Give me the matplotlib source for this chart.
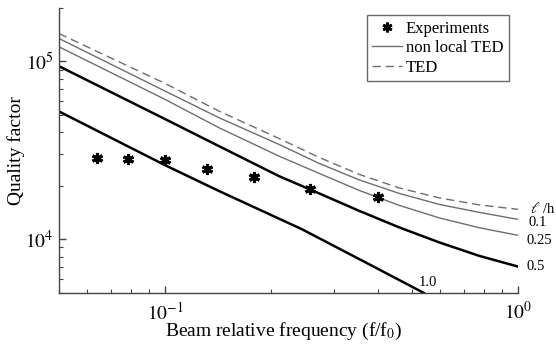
import matplotlib
matplotlib.use("Agg")
import matplotlib.pyplot as plt
from matplotlib.lines import Line2D
from matplotlib.ticker import FixedLocator, FixedFormatter

plt.rcParams['font.family'] = ['Liberation Serif', 'DejaVu Serif']
plt.rcParams['mathtext.fontset'] = 'stix'

# Experimental data
exp_f = [0.064, 0.0787, 0.1, 0.131, 0.178, 0.257, 0.401]
exp_q = [28500, 28400, 27900, 25000, 22400, 19100, 17200]

# Curves
f_grid = [0.05, 0.1, 0.142, 0.21, 0.273, 0.3545, 0.46, 0.597, 0.775, 1.0]
q_ted = [143600, 75200, 52600, 36930, 28880, 23190, 19470, 17110, 15630, 14740]
q_nl_01 = [134700, 68100, 48300, 34190, 26730, 21600, 18130, 15730, 14180, 12950]
q_nl_025 = [120950, 61150, 42420, 29380, 23490, 18850, 15530, 13210, 11630, 10530]
q_nl_05 = [94100, 47400, 33430, 22680, 18130, 14460, 11680, 9620, 8080, 7025]
f_nl_10 = [0.05, 0.1, 0.142, 0.244, 0.391, 0.54]
q_nl_10 = [52400, 26100, 18700, 11400, 7000, 5000]

curve_labels = ['0.1', '0.25', '0.5', '1.0']
x_ticks = [0.1, 1.0]
x_ticklabels = [r'$10^{-1}$', r'$10^{0}$']
y_ticks = [1e4, 1e5]
y_ticklabels = [r'$10^{4}$', r'$10^{5}$']

fig = plt.figure(figsize=(5.56, 3.45), dpi=100)
ax = fig.add_axes([0.106, 0.151, 0.826, 0.826])

gray = '#6e6e6e'
ax.plot(f_grid, q_ted, color=gray, lw=1.0, ls=(0, (6, 3.5)))
ax.plot(f_grid, q_nl_01, color=gray, lw=1.0)
ax.plot(f_grid, q_nl_025, color=gray, lw=1.0)
ax.plot(f_grid, q_nl_05, color='black', lw=1.8)
ax.plot(f_nl_10, q_nl_10, color='black', lw=1.8)
ax.plot(exp_f, exp_q, ls='none', marker=(6, 2, 0), markersize=8,
        markeredgewidth=2.2, color='black')

ax.set_xscale('log')
ax.set_yscale('log')
ax.set_xlim(0.05, 1.0)
ax.set_ylim(5000, 2.0e5)

for s in ['top', 'right']:
    ax.spines[s].set_visible(False)
for s in ['left', 'bottom']:
    ax.spines[s].set_color('#444444')
    ax.spines[s].set_linewidth(1.0)

ax.xaxis.set_major_locator(FixedLocator(x_ticks))
ax.xaxis.set_major_formatter(FixedFormatter(x_ticklabels))
ax.yaxis.set_major_locator(FixedLocator(y_ticks))
ax.yaxis.set_major_formatter(FixedFormatter(y_ticklabels))

ax.tick_params(which='major', direction='in', length=5, width=1,
               labelsize=14, color='#444444')
ax.tick_params(which='minor', direction='in', length=3, width=0.8,
               color='#444444')
ax.tick_params(axis='x', which='major', pad=6)
ax.tick_params(axis='y', which='major', pad=4)

ax.set_xlabel('Beam relative frequency (f/f$_0$)', fontsize=14)
ax.set_ylabel('Quality factor', fontsize=14)
ax.yaxis.set_label_coords(-0.074, 0.5)
ax.xaxis.set_label_coords(0.49, -0.098)

# curve labels
ax.text(1.077, 14930, r'$\ell$' + ' /h', fontsize=10.5, va='center', ha='left',
        clip_on=False)
ax.text(1.067, 12460, curve_labels[0], fontsize=10.5, va='center', ha='left', clip_on=False)
ax.text(1.057, 9870, curve_labels[1], fontsize=10.5, va='center', ha='left', clip_on=False)
ax.text(1.057, 7050, curve_labels[2], fontsize=10.5, va='center', ha='left', clip_on=False)
ax.text(0.524, 5740, curve_labels[3], fontsize=10.5, va='center', ha='left')

handles = [
    Line2D([], [], ls='none', marker=(6, 2, 0), markersize=7,
           markeredgewidth=2, color='black'),
    Line2D([], [], color=gray, lw=1.0),
    Line2D([], [], color=gray, lw=1.0, ls=(0, (6, 3.5))),
]
leg = ax.legend(handles, ['Experiments', 'non local TED', 'TED'],
                loc='upper right', bbox_to_anchor=(0.98, 0.975),
                borderaxespad=0, fontsize=12, frameon=True, fancybox=False,
                handlelength=1.8, handletextpad=0.2, labelspacing=0.2,
                borderpad=0.35)
leg.get_frame().set_edgecolor('#444444')
leg.get_frame().set_linewidth(1.0)

fig.savefig('out.png', dpi=100)
